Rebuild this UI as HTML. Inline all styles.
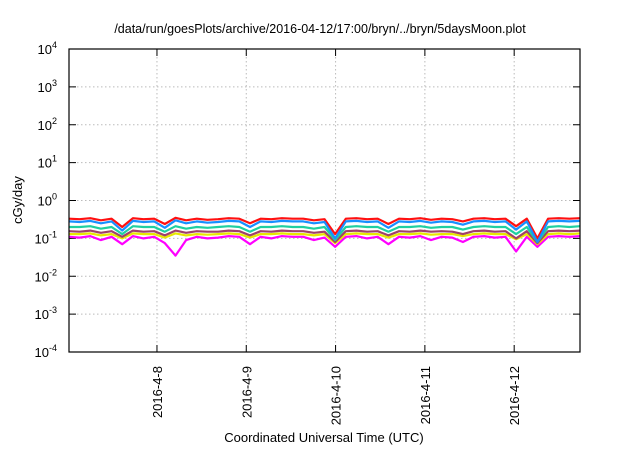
<!DOCTYPE html>
<html><head><meta charset="utf-8"><style>
body{margin:0;background:#fff;}
svg{font-family:"Liberation Sans",sans-serif;}
</style></head><body>
<svg id="c" width="640" height="448" xmlns="http://www.w3.org/2000/svg"></svg>
<script>
const xTickLabels=["2016-4-8","2016-4-9","2016-4-10","2016-4-11","2016-4-12"];
const xTickDays=[1,2,3,4,5];
const yExps=[4,3,2,1,0,-1,-2,-3,-4];
const red=[0.33,0.32,0.34,0.30,0.33,0.20,0.34,0.32,0.33,0.24,0.35,0.30,0.33,0.31,0.32,0.34,0.33,0.25,0.33,0.32,0.34,0.33,0.33,0.30,0.32,0.13,0.33,0.34,0.32,0.33,0.24,0.33,0.32,0.34,0.31,0.33,0.32,0.28,0.33,0.34,0.32,0.33,0.21,0.33,0.10,0.33,0.34,0.33,0.34];
const blue=[0.28,0.27,0.29,0.25,0.28,0.16,0.29,0.27,0.28,0.19,0.30,0.25,0.28,0.26,0.27,0.29,0.28,0.20,0.28,0.27,0.29,0.28,0.28,0.25,0.27,0.10,0.28,0.29,0.27,0.28,0.19,0.28,0.27,0.29,0.26,0.28,0.27,0.23,0.28,0.29,0.27,0.28,0.17,0.28,0.08,0.28,0.29,0.28,0.29];
const teal=[0.20,0.20,0.21,0.18,0.20,0.13,0.21,0.20,0.20,0.15,0.21,0.18,0.20,0.19,0.20,0.21,0.20,0.15,0.20,0.20,0.21,0.20,0.20,0.18,0.20,0.09,0.20,0.21,0.20,0.20,0.15,0.20,0.20,0.21,0.19,0.20,0.20,0.17,0.20,0.21,0.20,0.20,0.13,0.20,0.08,0.20,0.21,0.20,0.21];
const purple=[0.155,0.15,0.16,0.14,0.155,0.11,0.16,0.15,0.155,0.12,0.16,0.14,0.155,0.15,0.15,0.16,0.155,0.12,0.155,0.15,0.16,0.155,0.155,0.14,0.15,0.08,0.155,0.16,0.15,0.155,0.12,0.155,0.15,0.16,0.15,0.155,0.15,0.13,0.155,0.16,0.15,0.155,0.10,0.155,0.075,0.155,0.16,0.155,0.16];
const yellow=[0.13,0.13,0.135,0.12,0.13,0.10,0.135,0.13,0.13,0.105,0.135,0.12,0.13,0.125,0.13,0.135,0.13,0.105,0.13,0.13,0.135,0.13,0.13,0.12,0.13,0.075,0.13,0.135,0.13,0.13,0.105,0.13,0.13,0.135,0.125,0.13,0.13,0.115,0.13,0.135,0.13,0.13,0.095,0.13,0.07,0.13,0.135,0.13,0.135];
const magenta=[0.11,0.105,0.115,0.09,0.11,0.07,0.115,0.10,0.11,0.075,0.035,0.09,0.11,0.10,0.105,0.115,0.11,0.07,0.11,0.10,0.115,0.11,0.11,0.09,0.105,0.06,0.11,0.115,0.10,0.11,0.07,0.11,0.105,0.115,0.09,0.11,0.105,0.08,0.11,0.115,0.105,0.11,0.045,0.11,0.06,0.11,0.115,0.11,0.115];
const seriesList=[[magenta,"#ff00ff","series-magenta"],[yellow,"#e8e800","series-yellow"],[purple,"#a0406a","series-purple"],[teal,"#20d0a0","series-teal"],[red,"#ff1010","series-red"],[blue,"#1890ff","series-blue"]];
const L=69,R=580,T=49,B=352,dMin=0.015,dMax=5.737;
const xs=d=>L+(d-dMin)/(dMax-dMin)*(R-L);
const ys=v=>B-(Math.log10(v)+4)/8*(B-T);
const svg=document.getElementById('c');const NS="http://www.w3.org/2000/svg";
function mk(t,a,p){const e=document.createElementNS(NS,t);for(const k in a)e.setAttribute(k,a[k]);(p||svg).appendChild(e);return e;}
let e;
e=mk('text',{x:320,y:33,'text-anchor':'middle','font-size':12.5});e.textContent="/data/run/goesPlots/archive/2016-04-12/17:00/bryn/../bryn/5daysMoon.plot";


yExps.forEach(p=>{const y=B-(p+4)/8*(B-T);
 if(p>-4&&p<4){e=mk('line',{x1:L,x2:R,y1:y,y2:y,stroke:'#bbb','stroke-dasharray':'1.5,2.5'});
 
 }
 mk('line',{x1:L,x2:L+7,y1:y,y2:y,stroke:'#000'});mk('line',{x1:R,x2:R-7,y1:y,y2:y,stroke:'#000'});
 e=mk('text',{x:L-12,y:y+5,'text-anchor':'end','font-size':13});e.innerHTML='10<tspan dy="-6" font-size="9">'+p+'</tspan>';
 
 });
xTickDays.forEach((d,i)=>{const x=xs(d);
 e=mk('line',{x1:x,x2:x,y1:T,y2:B,stroke:'#bbb','stroke-dasharray':'1.5,2.5'});
 
 
 mk('line',{x1:x,x2:x,y1:B,y2:B-7,stroke:'#000'});mk('line',{x1:x,x2:x,y1:T,y2:T+7,stroke:'#000'});
 e=mk('text',{x:x+5,y:B+14,'text-anchor':'end','font-size':13,transform:`rotate(-90 ${x+5} ${B+14})`});e.textContent=xTickLabels[i];
 
 });
seriesList.forEach(([arr,col,nm])=>{const n=arr.length;
 const pts=arr.map((v,i)=>xs(dMin+i*(dMax-dMin)/(n-1)).toFixed(1)+','+ys(v).toFixed(1)).join(' ');
 e=mk('polyline',{points:pts,fill:'none',stroke:col,'stroke-width':2.2,'stroke-linejoin':'round'});
 
 });
e=mk('rect',{x:L,y:T,width:R-L,height:B-T,fill:'none',stroke:'#000','stroke-width':1.2});


e=mk('text',{x:22,y:200,'text-anchor':'middle','font-size':13,transform:'rotate(-90 22 200)'});e.textContent="cGy/day";


e=mk('text',{x:324,y:442,'text-anchor':'middle','font-size':13});e.textContent="Coordinated Universal Time (UTC)";


</script>
</body></html>
